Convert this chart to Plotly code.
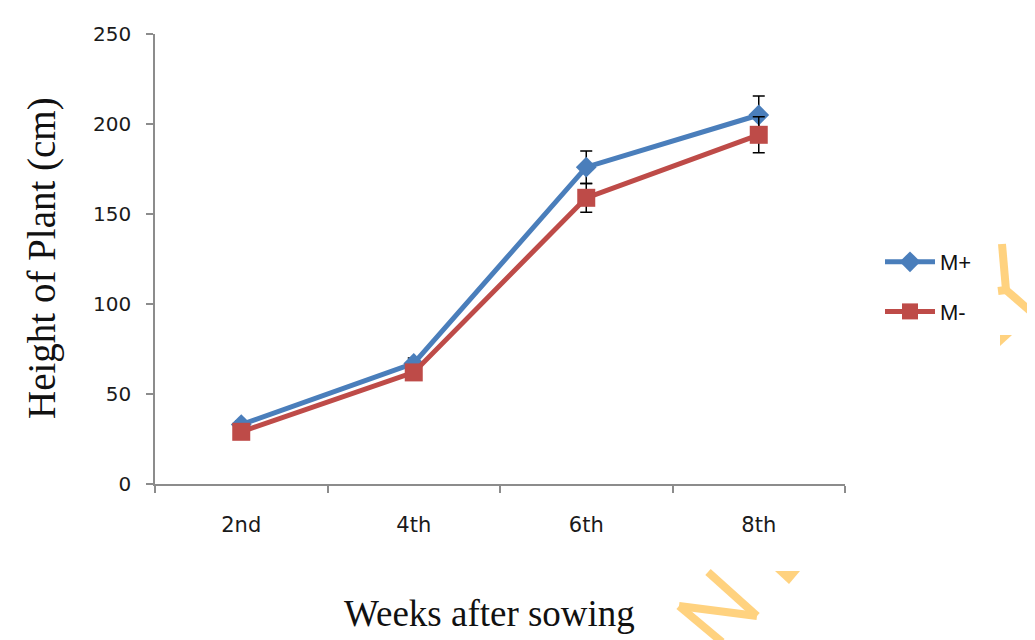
import plotly.graph_objects as go

weeks = ["2nd", "4th", "6th", "8th"]
m_plus = [33, 67, 176, 205]
m_plus_err = [2, 3, 9, 10.5]
m_minus = [29, 62, 159, 194]
m_minus_err = [2, 3, 8, 10]

OFF = 8  # browser default body margin
L, T = 155 - OFF, 34 - OFF
PW, PH = 690, 450
W, H = 1035, 640
R = W - L - PW
B = H - T - PH

def px(x):
    return (x - OFF - L) / PW

def py(y):
    return (T + PH - (y - OFF)) / PH

fig = go.Figure()
fig.add_trace(go.Scatter(
    x=weeks, y=m_plus, name="M+", mode="lines+markers",
    line=dict(color="#4A7EBB", width=5),
    marker=dict(symbol="diamond", size=16, color="#4A7EBB"),
    error_y=dict(type="data", array=m_plus_err, color="black", thickness=1.5, width=6),
    legendgroup="a",
))
fig.add_trace(go.Scatter(
    x=weeks, y=m_minus, name="M-", mode="lines+markers",
    line=dict(color="#BE4B48", width=5),
    marker=dict(symbol="square", size=18, color="#BE4B48"),
    error_y=dict(type="data", array=m_minus_err, color="black", thickness=1.5, width=6),
    legendgroup="b",
))

# faint watermark strokes
wm = "#FFD27F"
strokes = [
    (708, 572, 757, 616),
    (757, 616, 679, 606),
    (679, 606, 722, 642),
    (1002, 244, 1006, 290),
    (1006, 290, 1036, 316),
    (1006, 290, 998, 291),
]
shapes = []
for x0, y0, x1, y1 in strokes:
    shapes.append(dict(type="line", xref="paper", yref="paper",
                       x0=px(x0), y0=py(y0), x1=px(x1), y1=py(y1),
                       line=dict(color=wm, width=8), layer="below"))
shapes.append(dict(type="path", xref="paper", yref="paper",
                   path=f"M {px(775)} {py(571)} L {px(800)} {py(571)} L {px(789)} {py(584)} Z",
                   fillcolor=wm, line=dict(width=0), layer="below"))
shapes.append(dict(type="path", xref="paper", yref="paper",
                   path=f"M {px(1000)} {py(335)} L {px(1012)} {py(335)} L {px(1000)} {py(346)} Z",
                   fillcolor=wm, line=dict(width=0), layer="below"))

serif = "Liberation Serif, Times New Roman, serif"
annotations = [
    dict(text="Weeks after sowing", xref="paper", yref="paper",
         x=px(489), y=py(613), xanchor="center", yanchor="middle", showarrow=False,
         font=dict(family=serif, size=37, color="#111")),
    dict(text="Height of Plant (cm)", xref="paper", yref="paper", textangle=-90,
         x=px(42), y=py(258), xanchor="center", yanchor="middle", showarrow=False,
         font=dict(family=serif, size=39, color="#111")),
]

fig.update_layout(
    width=W, height=H,
    margin=dict(l=L, r=R, t=T, b=B),
    paper_bgcolor="white", plot_bgcolor="white",
    font=dict(family="DejaVu Sans, sans-serif", size=18, color="#1a1a1a"),
    showlegend=True,
    legend=dict(x=px(880), y=py(287), xanchor="left", yanchor="middle",
                font=dict(family="Liberation Sans, Arial, sans-serif", size=22, color="#111"),
                traceorder="grouped", tracegroupgap=18, itemwidth=50,
                bgcolor="rgba(0,0,0,0)"),
    shapes=shapes,
    annotations=annotations,
    xaxis=dict(
        type="category", range=[-0.5, 3.5],
        showline=True, linecolor="#8c8c8c", linewidth=1.5,
        ticks="outside", tickcolor="#8c8c8c", ticklen=7, tickwidth=1.5,
        tickson="boundaries", showgrid=False, zeroline=False,
        tickfont=dict(family="DejaVu Sans, sans-serif", size=21, color="#1a1a1a"),
        ticklabelstandoff=21,
    ),
    yaxis=dict(
        range=[0, 250], dtick=50,
        showline=True, linecolor="#8c8c8c", linewidth=1.5,
        ticks="outside", tickcolor="#8c8c8c", ticklen=7, tickwidth=1.5,
        showgrid=False, zeroline=False,
        tickfont=dict(family="DejaVu Sans, sans-serif", size=20, color="#1a1a1a"),
        ticklabelstandoff=11,
    ),
)

fig.write_html("out.html")
